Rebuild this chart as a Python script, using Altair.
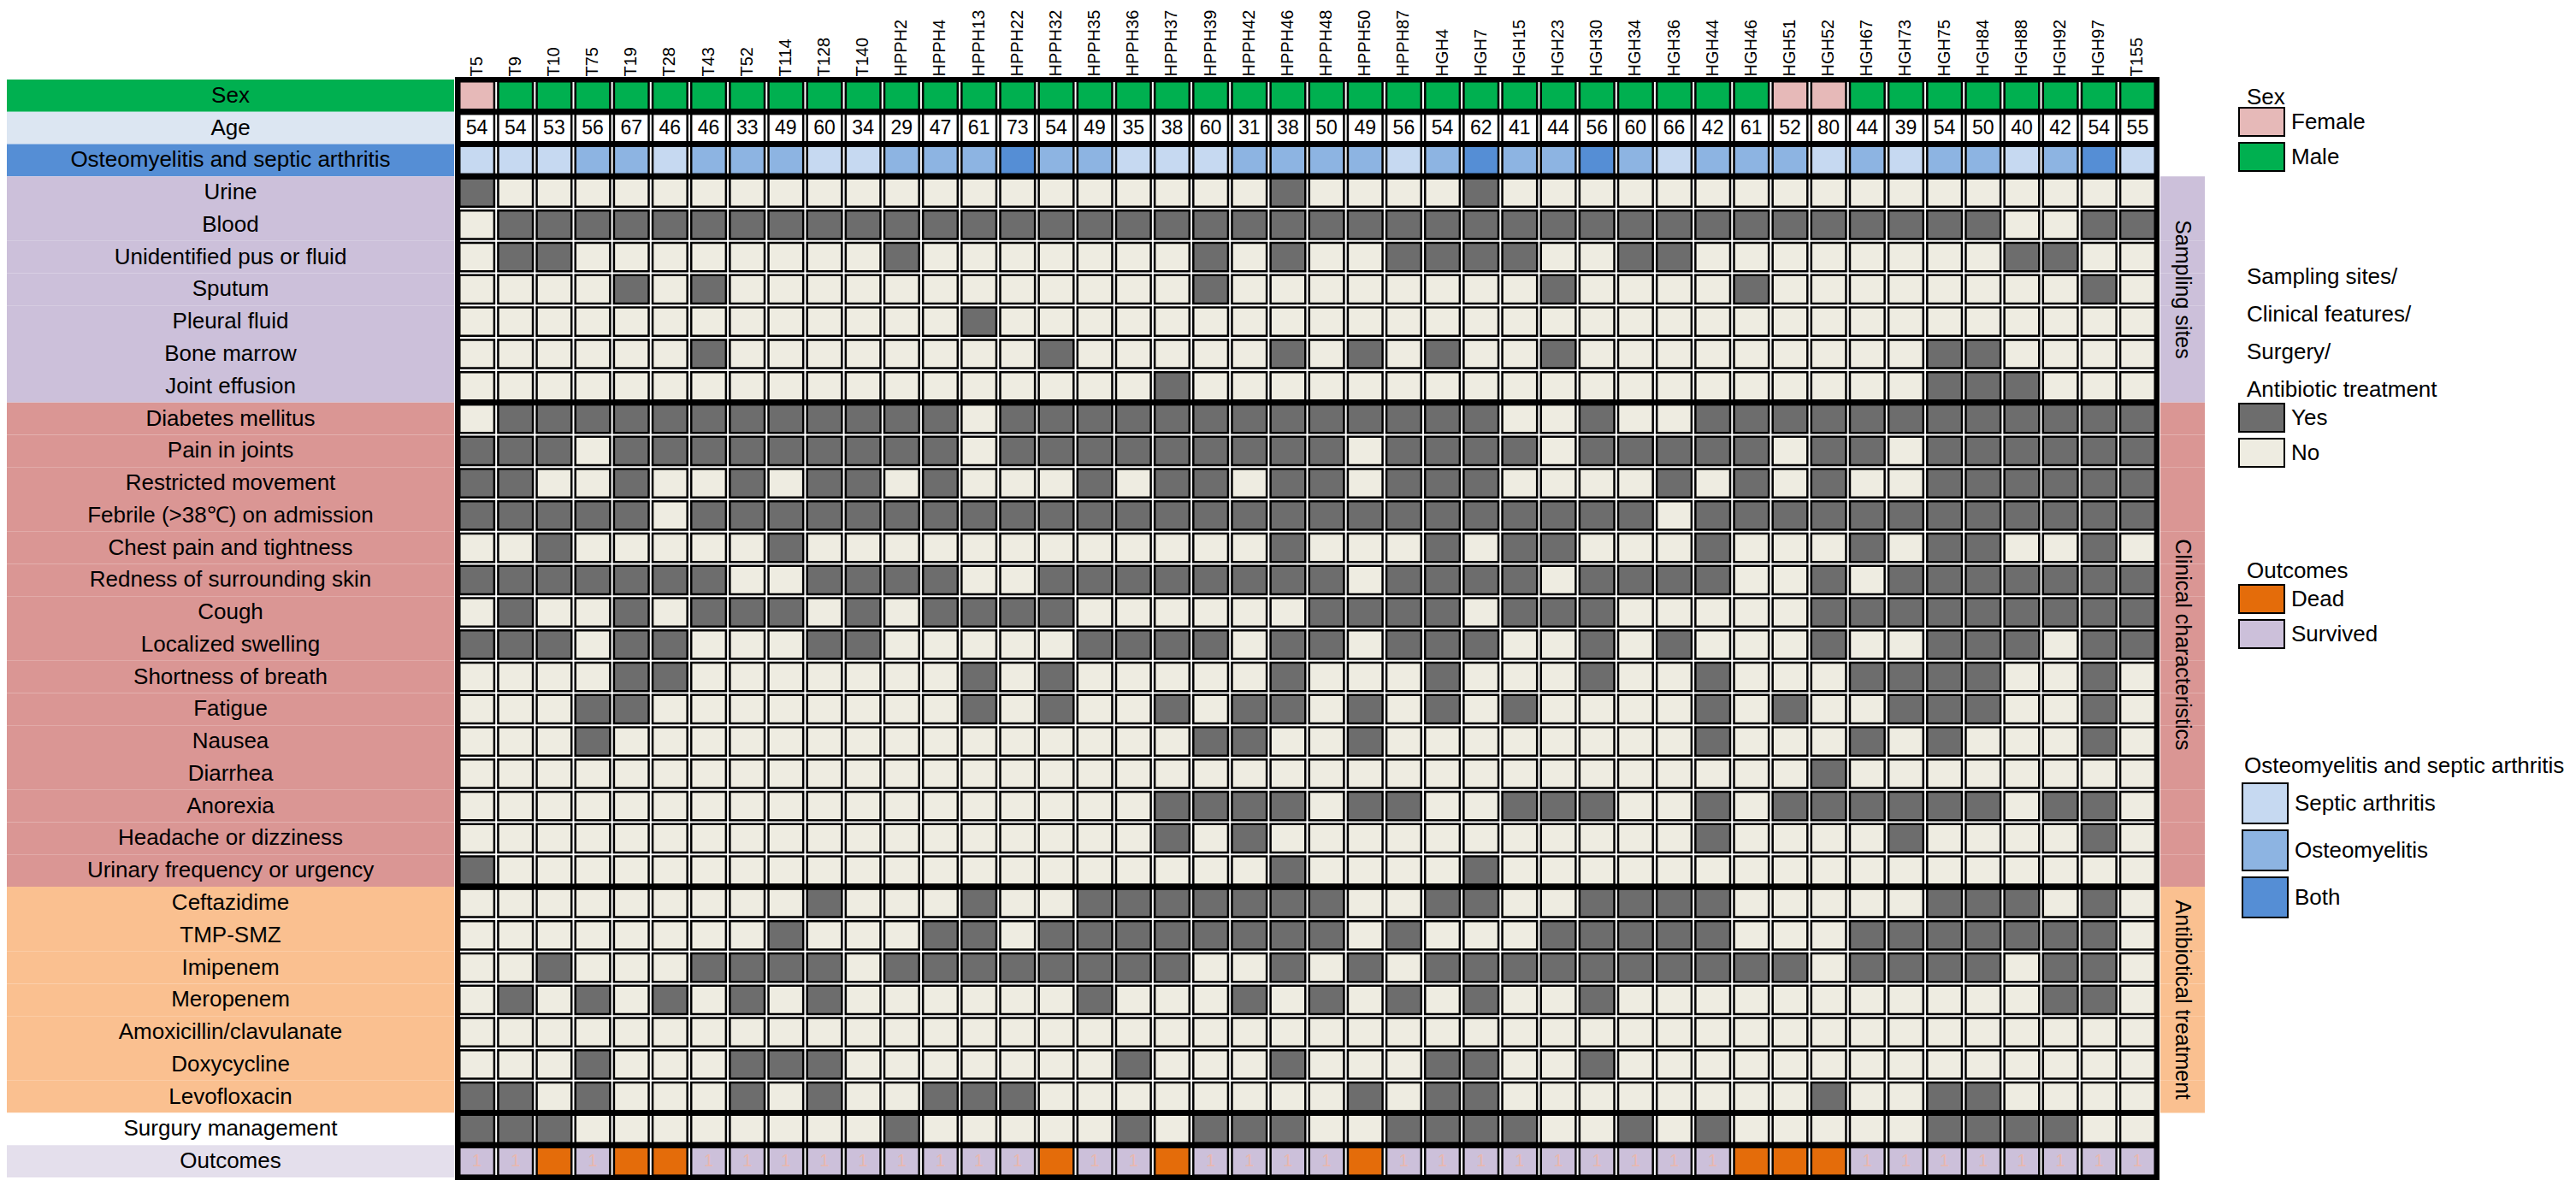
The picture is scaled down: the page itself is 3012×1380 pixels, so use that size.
import altair as alt
import pandas as pd

FONT = "Liberation Sans"

patients = ["T5", "T9", "T10", "T75", "T19", "T28", "T43", "T52", "T114", "T128", "T140",
            "HPPH2", "HPPH4", "HPPH13", "HPPH22", "HPPH32", "HPPH35", "HPPH36", "HPPH37",
            "HPPH39", "HPPH42", "HPPH46", "HPPH48", "HPPH50", "HPPH87",
            "HGH4", "HGH7", "HGH15", "HGH23", "HGH30", "HGH34", "HGH36", "HGH44", "HGH46",
            "HGH51", "HGH52", "HGH67", "HGH73", "HGH75", "HGH84", "HGH88", "HGH92", "HGH97", "T155"]

ages = [54, 54, 53, 56, 67, 46, 46, 33, 49, 60, 34,
        29, 47, 61, 73, 54, 49, 35, 38, 60, 31, 38, 50, 49, 56,
        54, 62, 41, 44, 56, 60, 66, 42, 61, 52, 80, 44, 39, 54, 50, 40, 42, 54, 55]

sex = ["Female", "Male", "Male", "Male", "Male", "Male", "Male", "Male", "Male", "Male", "Male",
       "Male", "Male", "Male", "Male", "Male", "Male", "Male", "Male", "Male", "Male", "Male",
       "Male", "Male", "Male", "Male", "Male", "Male", "Male", "Male", "Male", "Male", "Male", "Male",
       "Female", "Female", "Male", "Male", "Male", "Male", "Male", "Male", "Male", "Male"]

osteo = ["Septic arthritis", "Septic arthritis", "Septic arthritis", "Osteomyelitis", "Osteomyelitis",
         "Septic arthritis", "Osteomyelitis", "Osteomyelitis", "Osteomyelitis", "Septic arthritis",
         "Septic arthritis", "Osteomyelitis", "Osteomyelitis", "Osteomyelitis", "Both", "Osteomyelitis",
         "Osteomyelitis", "Septic arthritis", "Septic arthritis", "Septic arthritis", "Osteomyelitis",
         "Osteomyelitis",
         "Osteomyelitis", "Osteomyelitis", "Septic arthritis", "Osteomyelitis", "Both", "Osteomyelitis",
         "Osteomyelitis", "Both", "Osteomyelitis", "Septic arthritis", "Osteomyelitis", "Osteomyelitis",
         "Osteomyelitis", "Septic arthritis", "Osteomyelitis", "Septic arthritis", "Osteomyelitis",
         "Osteomyelitis", "Septic arthritis", "Osteomyelitis", "Both", "Septic arthritis"]

outcome = ["Survived", "Survived", "Dead", "Survived", "Dead", "Dead", "Survived", "Survived",
           "Survived", "Survived", "Survived", "Survived", "Survived", "Survived", "Survived", "Dead",
           "Survived", "Survived", "Dead", "Survived", "Survived", "Survived",
           "Survived", "Dead", "Survived", "Survived", "Survived", "Survived", "Survived", "Survived",
           "Survived", "Survived", "Survived", "Dead", "Dead", "Dead", "Survived", "Survived",
           "Survived", "Survived", "Survived", "Survived", "Survived", "Survived"]

# 1 = Yes, 0 = No
urine = [1,0,0,0,0,0,0,0,0,0,0,0,0,0,0,0,0,0,0,0,0,1,
         0,0,0,0,1,0,0,0,0,0,0,0,0,0,0,0,0,0,0,0,0,0]
blood = [0,1,1,1,1,1,1,1,1,1,1,1,1,1,1,1,1,1,1,1,1,1,
         1,1,1,1,1,1,1,1,1,1,1,1,1,1,1,1,1,1,0,0,1,1]
unidentified = [0,1,1,0,0,0,0,0,0,0,0,1,0,0,0,0,0,0,0,1,0,1,
                0,0,1,1,1,1,0,0,1,1,0,0,0,0,0,0,0,0,1,1,0,0]
sputum = [0,0,0,0,1,0,1,0,0,0,0,0,0,0,0,0,0,0,0,1,0,0,
          0,0,0,0,0,0,1,0,0,0,0,1,0,0,0,0,0,0,0,0,1,0]
pleural = [0,0,0,0,0,0,0,0,0,0,0,0,0,1,0,0,0,0,0,0,0,0,
           0,0,0,0,0,0,0,0,0,0,0,0,0,0,0,0,0,0,0,0,0,0]
bone_marrow = [0,0,0,0,0,0,1,0,0,0,0,0,0,0,0,1,0,0,0,0,0,1,
               0,1,0,1,0,0,1,0,0,0,0,0,0,0,0,0,1,1,0,0,0,0]
joint = [0,0,0,0,0,0,0,0,0,0,0,0,0,0,0,0,0,0,1,0,0,0,
         0,0,0,0,0,0,0,0,0,0,0,0,0,0,0,0,1,1,1,0,0,0]
diabetes = [0,1,1,1,1,1,1,1,1,1,1,1,1,0,1,1,1,1,1,1,1,1,
            1,1,1,1,1,0,0,1,0,0,1,1,1,1,1,1,1,1,1,1,1,1]
pain = [1,1,1,0,1,1,1,1,1,1,1,1,1,0,1,1,1,1,1,1,1,1,
        1,0,1,1,1,1,0,1,1,1,1,1,0,1,1,0,1,1,1,1,1,1]
restricted = [1,1,0,0,1,0,0,1,0,1,1,0,1,0,0,0,1,0,1,1,0,1,
              1,0,1,1,1,0,0,0,0,1,0,1,0,1,0,0,1,1,1,1,1,1]
febrile = [1,1,1,1,1,0,1,1,1,1,1,1,1,1,1,1,1,1,1,1,1,1,
           1,1,1,1,1,1,1,1,1,0,1,1,1,1,1,1,1,1,1,1,1,1]
chest = [0,0,1,0,0,0,0,0,1,0,0,0,0,0,0,0,0,0,0,0,0,1,
         0,0,0,1,0,1,1,0,0,0,1,0,0,0,1,0,1,1,0,0,1,0]
redness = [1,1,1,1,1,1,1,0,0,1,1,1,1,0,0,1,1,1,1,1,1,1,
           1,0,1,1,1,1,0,1,1,1,1,0,0,1,0,1,1,1,1,1,1,1]
cough = [0,1,0,0,1,0,1,1,1,0,1,0,1,1,1,1,0,0,0,0,0,0,
         1,1,1,1,0,1,1,1,0,0,0,0,0,1,1,1,1,1,1,1,1,1]
swelling = [1,1,1,0,1,1,0,0,0,1,1,0,0,0,0,0,1,1,1,1,0,1,
            1,0,1,1,1,0,0,1,0,1,0,0,0,1,0,0,1,1,1,0,1,1]
shortness = [0,0,0,0,1,1,0,0,0,0,0,0,0,1,0,1,0,0,0,0,0,1,
             0,0,0,1,0,0,0,1,0,0,1,0,0,0,1,1,1,1,0,0,1,0]
fatigue = [0,0,0,1,1,0,0,0,0,0,0,0,0,1,0,1,0,0,1,0,1,1,
           0,1,0,1,0,1,0,0,0,0,1,0,1,0,0,1,1,1,0,0,1,0]
nausea = [0,0,0,1,0,0,0,0,0,0,0,0,0,0,0,0,0,0,0,1,1,0,
          0,1,0,0,0,0,0,0,0,0,1,0,0,0,1,0,1,0,0,0,1,0]
diarrhea = [0,0,0,0,0,0,0,0,0,0,0,0,0,0,0,0,0,0,0,0,0,0,
            0,0,0,0,0,0,0,0,0,0,0,0,0,1,0,0,0,0,0,0,0,0]
anorexia = [0,0,0,0,0,0,0,0,0,0,0,0,0,0,0,0,0,0,1,1,1,1,
            0,1,1,0,0,1,1,1,0,0,1,0,1,1,1,1,1,1,0,1,1,0]
headache = [0,0,0,0,0,0,0,0,0,0,0,0,0,0,0,0,0,0,1,0,1,0,
            0,0,0,0,0,0,0,0,0,0,1,0,0,0,0,1,0,0,0,0,1,0]
urinary = [1,0,0,0,0,0,0,0,0,0,0,0,0,0,0,0,0,0,0,0,0,1,
           0,0,0,0,1,0,0,0,0,0,0,0,0,0,0,0,0,0,0,0,0,0]
ceftazidime = [0,0,0,0,0,0,0,0,0,1,0,0,0,1,0,0,1,1,1,1,1,1,
               1,0,0,1,1,0,0,1,1,1,1,0,0,0,0,0,1,1,1,0,1,0]
tmp_smz = [0,0,0,0,0,0,0,0,1,0,0,0,1,1,0,1,1,1,1,1,1,1,
           1,0,1,0,0,0,1,1,1,1,1,0,0,0,1,1,1,1,1,1,1,0]
imipenem = [0,0,1,0,0,0,1,1,1,1,0,1,1,1,1,1,1,1,1,0,0,1,
            0,1,0,1,1,1,1,1,1,1,1,1,1,0,1,1,1,1,0,1,1,0]
meropenem = [0,1,0,1,0,1,0,1,0,1,0,0,0,0,0,0,1,0,0,0,1,0,
             1,0,1,0,1,0,0,1,0,0,0,0,0,0,0,0,0,0,0,1,1,0]
amoxicillin = [0,0,0,0,0,0,0,0,0,0,0,0,0,0,0,0,0,0,0,0,0,0,
               0,0,0,0,0,0,0,0,0,0,0,0,0,0,0,0,0,0,0,0,0,0]
doxycycline = [0,0,0,1,0,0,0,1,1,1,0,0,0,0,0,0,0,1,0,0,0,1,
               0,0,0,1,1,0,0,1,0,0,0,0,0,0,0,0,0,0,0,0,0,0]
levofloxacin = [1,1,0,1,0,0,0,1,0,1,0,0,1,1,1,0,0,0,0,0,0,0,
                0,1,0,1,1,0,0,0,0,0,0,0,0,1,0,0,1,1,0,0,0,0]
surgery = [1,1,1,0,0,0,0,0,0,0,0,1,0,0,0,0,0,1,0,1,1,1,
           0,0,1,1,1,1,0,0,1,0,1,0,0,0,0,0,1,1,1,1,0,0]

sampling_rows = [("Urine", urine), ("Blood", blood), ("Unidentified pus or fluid", unidentified),
                 ("Sputum", sputum), ("Pleural fluid", pleural), ("Bone marrow", bone_marrow),
                 ("Joint effusion", joint)]
clinical_rows = [("Diabetes mellitus", diabetes), ("Pain in joints", pain),
                 ("Restricted movement", restricted), ("Febrile (>38℃) on admission", febrile),
                 ("Chest pain and tightness", chest), ("Redness of surrounding skin", redness),
                 ("Cough", cough), ("Localized swelling", swelling),
                 ("Shortness of breath", shortness), ("Fatigue", fatigue), ("Nausea", nausea),
                 ("Diarrhea", diarrhea), ("Anorexia", anorexia),
                 ("Headache or dizziness", headache), ("Urinary frequency or urgency", urinary)]
antibiotic_rows = [("Ceftazidime", ceftazidime), ("TMP-SMZ", tmp_smz), ("Imipenem", imipenem),
                   ("Meropenem", meropenem), ("Amoxicillin/clavulanate", amoxicillin),
                   ("Doxycycline", doxycycline), ("Levofloxacin", levofloxacin)]
surgery_rows = [("Surgury management", surgery)]

OSTEO_ROW = "Osteomyelitis and septic arthritis"
rows = (["Sex", "Age", OSTEO_ROW]
        + [r for r, _ in sampling_rows] + [r for r, _ in clinical_rows]
        + [r for r, _ in antibiotic_rows] + [r for r, _ in surgery_rows] + ["Outcomes"])
row_groups = (["Sex", "Age", "Osteo"] + ["Sampling"] * len(sampling_rows)
              + ["Clinical"] * len(clinical_rows) + ["Antibiotic"] * len(antibiotic_rows)
              + ["Surgery", "Outcomes"])
group_names = ["Sex", "Age", "Osteo", "Sampling", "Clinical", "Antibiotic", "Surgery", "Outcomes"]
group_colors = ["#00b050", "#dce6f2", "#558ed5", "#ccc0da", "#da9694", "#fac090", "#ffffff", "#e4dfec"]

sections = [("Sampling sites", sampling_rows), ("Clinical characteristics", clinical_rows),
            ("Antibiotical treatment", antibiotic_rows)]
section_colors = ["#ccc0da", "#da9694", "#fac090"]
boundary_rows = ["Sex", "Age", OSTEO_ROW, "Joint effusion", "Urinary frequency or urgency",
                 "Levofloxacin", "Surgury management"]

# ---------------- tables ----------------
df_sex = pd.DataFrame({"patient": patients, "row": "Sex", "value": sex})
df_age = pd.DataFrame({"patient": patients, "row": "Age", "age": ages})
df_ost = pd.DataFrame({"patient": patients, "row": OSTEO_ROW, "value": osteo})
df_out = pd.DataFrame({"patient": patients, "row": "Outcomes", "value": outcome})
yn_records = []
for name, vals in sampling_rows + clinical_rows + antibiotic_rows + surgery_rows:
    for p, v in zip(patients, vals):
        yn_records.append({"patient": p, "row": name, "value": "Yes" if v else "No"})
df_yn = pd.DataFrame(yn_records)
df_surv = df_out[df_out["value"] == "Survived"].assign(mark="1")
df_bound = pd.DataFrame({"row": boundary_rows})
df_lab = pd.DataFrame({"row": rows, "group": row_groups})
strip_records = []
strip_mid = []
for sname, srows in sections:
    for r, _ in srows:
        strip_records.append({"row": r, "section": sname})
    strip_mid.append({"row": srows[len(srows) // 2][0], "section": sname})
df_strip = pd.DataFrame(strip_records)
df_strip_mid = pd.DataFrame(strip_mid)

# ---------------- layout ----------------
W, H = 1987, 1284
LW, SW, SP = 523, 52, 4
PIY, PIX = 0.12, 0.10
step_y = H / len(rows)

xscale = alt.Scale(domain=patients, paddingInner=PIX, paddingOuter=PIX / 2)
yscale = alt.Scale(domain=rows, paddingInner=PIY, paddingOuter=PIY / 2)
yscale0 = alt.Scale(domain=rows, paddingInner=0, paddingOuter=0)

X = alt.X("patient:N", scale=xscale, sort=patients,
          axis=alt.Axis(orient="top", labelAngle=-90, title=None, ticks=False, domain=False,
                        labelFontSize=20, labelFont=FONT, labelColor="black", labelPadding=4,
                        labelLimit=0))
Y = alt.Y("row:N", scale=yscale, sort=rows, axis=None)

SW_W = 53  # swatch width


def legend(title, lx, ly, sh, tpad, lh=28):
    k = SW_W / sh
    path = f"M{-k:.4f},-1H{k:.4f}V1H{-k:.4f}Z"
    return alt.Legend(title=title, orient="none", legendX=lx, legendY=ly, padding=0,
                      symbolType=path, symbolSize=sh * sh, symbolStrokeColor="black",
                      symbolStrokeWidth=2, symbolOpacity=1, rowPadding=0,
                      labelFont=FONT, labelFontSize=26, labelColor="black",
                      labelOffset=(SW_W - sh) / 2 + 7,
                      labelLimit=500, titleFont=FONT, titleFontSize=26, titleFontWeight="normal",
                      titleColor="black", titleLimit=600, titlePadding=tpad, titleLineHeight=lh)


cell = dict(stroke="black", strokeWidth=2.5)
LX = 2092

sex_layer = alt.Chart(df_sex).mark_rect(**cell).encode(
    x=X, y=Y,
    color=alt.Color("value:N", scale=alt.Scale(domain=["Female", "Male"], range=["#e6b9b8", "#00b050"]),
                    legend=legend("Sex", LX, 8, 33, -2)))
age_layer = alt.Chart(df_age).mark_rect(fill="white", **cell).encode(x=X, y=Y)
age_text = alt.Chart(df_age).mark_text(font=FONT, fontSize=23, color="black").encode(
    x=X, y=Y, text="age:Q")
osteo_layer = alt.Chart(df_ost).mark_rect(**cell).encode(
    x=X, y=Y,
    color=alt.Color("value:N",
                    scale=alt.Scale(domain=["Septic arthritis", "Osteomyelitis", "Both"],
                                    range=["#c6d9f1", "#8db4e2", "#558ed5"]),
                    legend=legend("Osteomyelitis and septic arthritis", LX - 3, 790, 47, 6)))
yn_layer = alt.Chart(df_yn).mark_rect(**cell).encode(
    x=X, y=Y,
    color=alt.Color("value:N", scale=alt.Scale(domain=["Yes", "No"], range=["#6d6d6d", "#eeece1"]),
                    legend=legend(["Sampling sites/", "Clinical features/", "Surgery/",
                                   "Antibiotic treatment"], LX, 218, 33, 2, 44)))
out_layer = alt.Chart(df_out).mark_rect(**cell).encode(
    x=X, y=Y,
    color=alt.Color("value:N", scale=alt.Scale(domain=["Dead", "Survived"], range=["#e46c0a", "#ccc0da"]),
                    legend=legend("Outcomes", LX, 562, 33, 2)))
surv_text = alt.Chart(df_surv).mark_text(font=FONT, fontSize=20, color="#e9b7ad").encode(
    x=X, y=Y, text="mark:N")
sep_rules = alt.Chart(df_bound).mark_rule(color="black", strokeWidth=7, yOffset=step_y * PIY / 2).encode(
    y=alt.Y("row:N", scale=yscale, sort=rows, axis=None, bandPosition=1))

grid = alt.layer(sex_layer, age_layer, age_text, osteo_layer, yn_layer, out_layer, surv_text,
                 sep_rules).resolve_scale(color="independent").properties(
    width=W, height=H, view=alt.ViewBackground(stroke="black", strokeWidth=6))

label_bg = alt.Chart(df_lab).mark_rect().encode(
    y=alt.Y("row:N", scale=yscale0, sort=rows, axis=None),
    color=alt.Color("group:N", scale=alt.Scale(domain=group_names, range=group_colors), legend=None))
label_txt = alt.Chart(df_lab).mark_text(font=FONT, fontSize=26, color="black").encode(
    y=alt.Y("row:N", scale=yscale0, sort=rows, axis=None), text="row:N")
labels = alt.layer(label_bg, label_txt).properties(
    width=LW, height=H, view=alt.ViewBackground(stroke="transparent"))

strip_bg = alt.Chart(df_strip).mark_rect().encode(
    y=alt.Y("row:N", scale=yscale0, sort=rows, axis=None),
    color=alt.Color("section:N", scale=alt.Scale(domain=[s for s, _ in sections], range=section_colors),
                    legend=None))
strip_txt = alt.Chart(df_strip_mid).mark_text(font=FONT, fontSize=25, color="black", angle=90).encode(
    y=alt.Y("row:N", scale=yscale0, sort=rows, axis=None), text="section:N")
strip = alt.layer(strip_bg, strip_txt).properties(
    width=SW, height=H, view=alt.ViewBackground(stroke="transparent"))

chart = alt.hconcat(labels, grid, strip, spacing=SP, bounds="flush").resolve_scale(
    color="independent", x="independent", y="independent").properties(
    padding=0, background="white").configure_view(strokeWidth=0)

chart.save("out.html", embed_options={"renderer": "svg", "actions": False})
